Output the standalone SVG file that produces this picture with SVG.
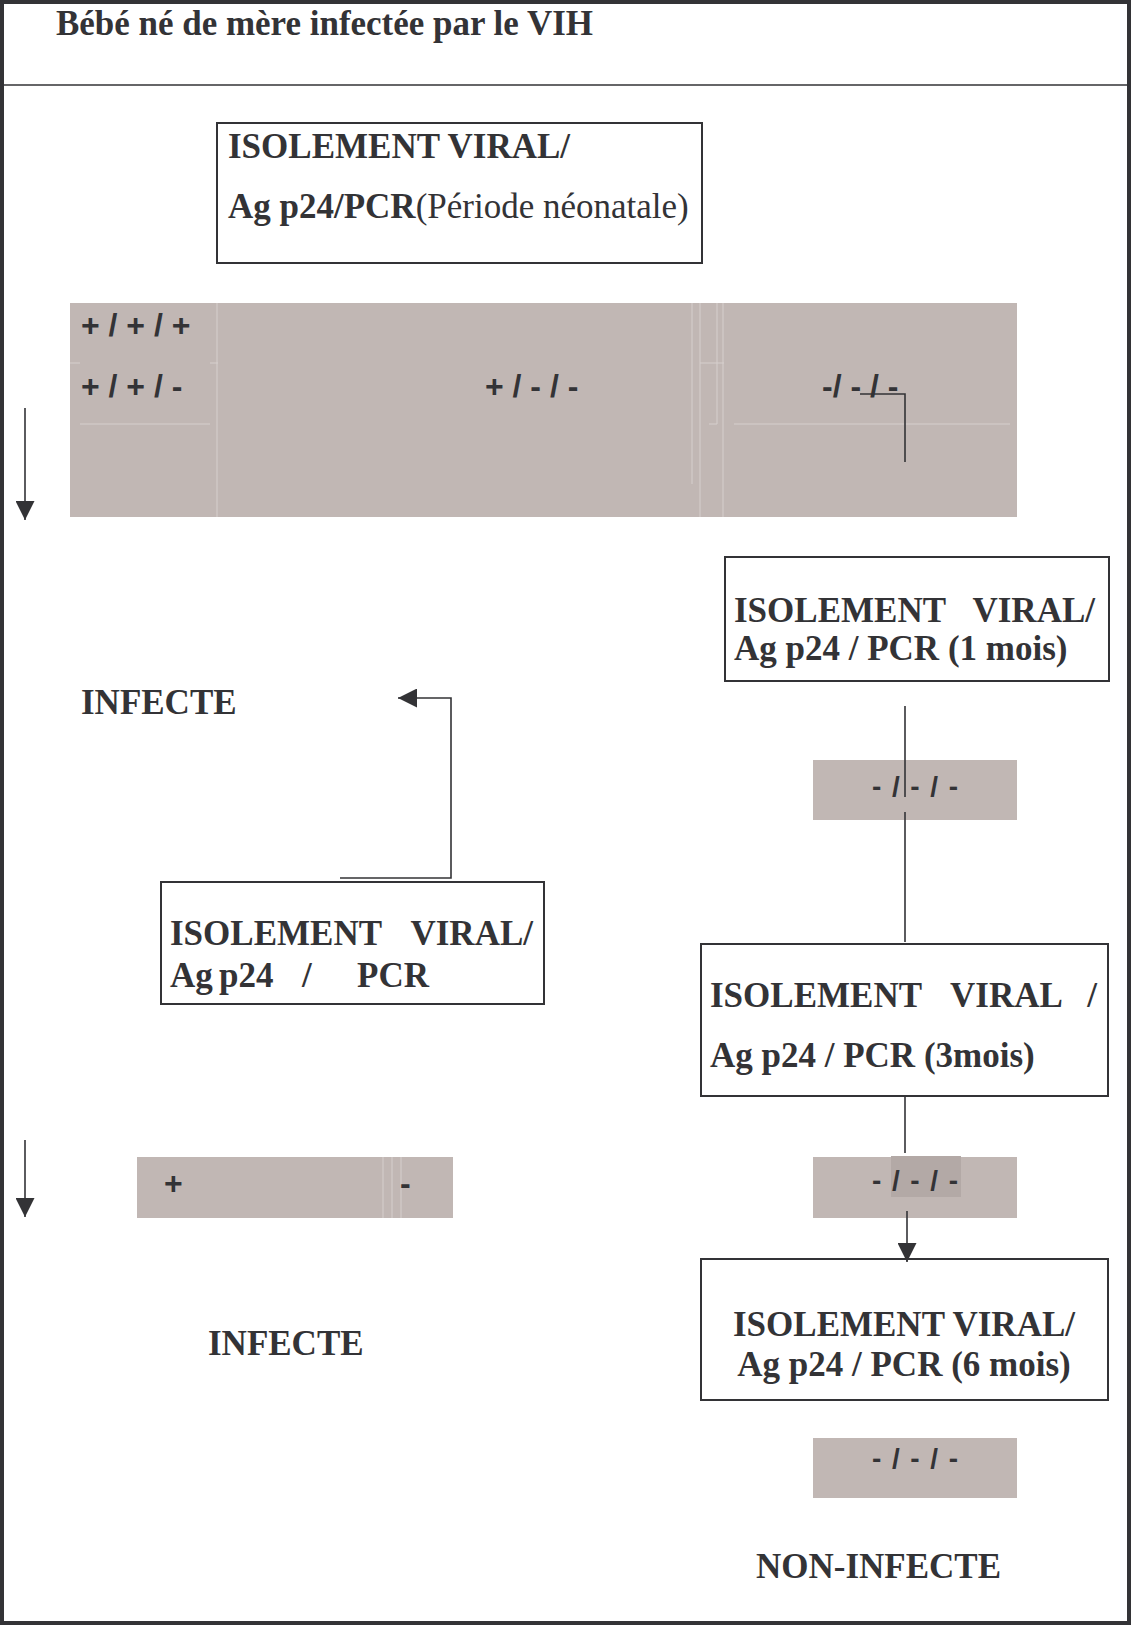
<svg xmlns="http://www.w3.org/2000/svg" width="1131" height="1627" viewBox="0 0 1131 1627">
<style>
.frame{fill:none;stroke:#333336;stroke-width:4}
.box{fill:#ffffff;stroke:#333336;stroke-width:2}
.shade{fill:#c1b7b4}
.faint{stroke:#d6cfcd;stroke-width:1;fill:none}
.ser{font-family:"Liberation Serif","Times New Roman",serif;font-weight:bold;font-size:35px;fill:#333336}
.reg{font-weight:normal}
.sans{font-family:"Liberation Sans",Arial,sans-serif;font-weight:bold;font-size:32px;fill:#333336}
.sm{font-size:28px}
.conn{fill:none;stroke:#333336;stroke-width:1.6}
</style>
<defs>
<marker id="ah" viewBox="0 0 10 10" refX="10" refY="5" markerWidth="19" markerHeight="19" markerUnits="userSpaceOnUse" orient="auto">
<path d="M0,0 L10,5 L0,10 z" fill="#333336"/>
</marker>
</defs>
<rect x="0" y="0" width="1131" height="1627" fill="#ffffff"/>
<rect class="frame" x="2" y="2" width="1127" height="1621"/>
<line x1="2" y1="85" x2="1129" y2="85" stroke="#333336" stroke-width="1.5"/>

<g id="title">
<text class="ser" x="56" y="35" font-size="33" textLength="537" lengthAdjust="spacingAndGlyphs">Bébé né de mère infectée par le VIH</text>
</g>

<g id="box-neonatal">
<rect class="box" x="217" y="123" width="485" height="140"/>
<text class="ser" x="228" y="158">ISOLEMENT VIRAL/</text>
<text class="ser" x="228" y="218">Ag p24/PCR<tspan class="reg">(Période néonatale)</tspan></text>
</g>

<g id="results-neonatal">
<rect class="shade" x="70" y="303" width="947" height="214"/>
<path class="faint" d="M217,303V517 M70,363H80 M210,363H218 M80,424H210 M692,303V484 M700,303V517 M717,303V424 M723,303V517 M700,363H724 M734,424H1010 M709,424H717"/>
<text class="sans" x="81" y="336">+ / + / +</text>
<text class="sans" x="81" y="397">+ / + / -</text>
<text class="sans" x="485" y="397">+ / - / -</text>
<text class="sans" x="822" y="397">-/ - / -</text>
</g>

<g id="box-1mois">
<rect class="box" x="725" y="557" width="384" height="124"/>
<text class="ser" x="734" y="622">ISOLEMENT</text>
<text class="ser" x="1095" y="622" text-anchor="end">VIRAL/</text>
<text class="ser" x="734" y="660">Ag p24 / PCR (1 mois)</text>
</g>

<g id="infecte-1">
<text class="ser" x="81" y="714">INFECTE</text>
</g>

<g id="result-1mois">
<rect class="shade" x="813" y="760" width="204" height="60"/>
<text class="sans sm" x="872" y="796" textLength="86">- / - / -</text>
</g>

<g id="box-left">
<rect class="box" x="161" y="882" width="383" height="122"/>
<text class="ser" x="170" y="945">ISOLEMENT</text>
<text class="ser" x="533" y="945" text-anchor="end">VIRAL/</text>
<text class="ser" y="987"><tspan x="170">Ag</tspan><tspan x="219">p24</tspan><tspan x="302">/</tspan><tspan x="357">PCR</tspan></text>
</g>

<g id="box-3mois">
<rect class="box" x="701" y="944" width="407" height="152"/>
<text class="ser" x="710" y="1007">ISOLEMENT</text>
<text class="ser" x="950" y="1007">VIRAL</text>
<text class="ser" x="1097" y="1007" text-anchor="end">/</text>
<text class="ser" x="710" y="1067">Ag p24 / PCR (3mois)</text>
</g>

<g id="result-left">
<rect class="shade" x="137" y="1157" width="316" height="61"/>
<path class="faint" d="M383,1157V1218 M392,1157V1218 M401,1157V1218"/>
<text class="sans" x="164" y="1194">+</text>
<text class="sans" x="400" y="1194">-</text>
</g>

<g id="result-3mois">
<rect class="shade" x="813" y="1157" width="204" height="61"/>
<rect x="891" y="1156" width="70" height="41" fill="#b3a9a6"/>
<text class="sans sm" x="872" y="1190" textLength="86">- / - / -</text>
</g>

<g id="infecte-2">
<text class="ser" x="208" y="1355">INFECTE</text>
</g>

<g id="box-6mois">
<rect class="box" x="701" y="1259" width="407" height="141"/>
<text class="ser" x="904" y="1336" text-anchor="middle">ISOLEMENT VIRAL/</text>
<text class="ser" x="904" y="1376" text-anchor="middle">Ag p24 / PCR (6 mois)</text>
</g>

<g id="result-6mois">
<rect class="shade" x="813" y="1438" width="204" height="60"/>
<text class="sans sm" x="872" y="1468" textLength="86">- / - / -</text>
</g>

<g id="non-infecte">
<text class="ser" x="756" y="1578">NON-INFECTE</text>
</g>

<g id="connectors">
<line class="conn" x1="25" y1="408" x2="25" y2="520" marker-end="url(#ah)"/>
<line class="conn" x1="25" y1="1140" x2="25" y2="1217" marker-end="url(#ah)"/>
<polyline class="conn" points="860,394 905,394 905,462"/>
<polyline class="conn" points="340,878 451,878 451,698 398,698" marker-end="url(#ah)"/>
<line class="conn" x1="905" y1="706" x2="905" y2="797"/>
<line class="conn" x1="905" y1="812" x2="905" y2="942"/>
<line class="conn" x1="905" y1="1096" x2="905" y2="1153"/>
<line class="conn" x1="907" y1="1211" x2="907" y2="1262" marker-end="url(#ah)"/>
</g>
</svg>
